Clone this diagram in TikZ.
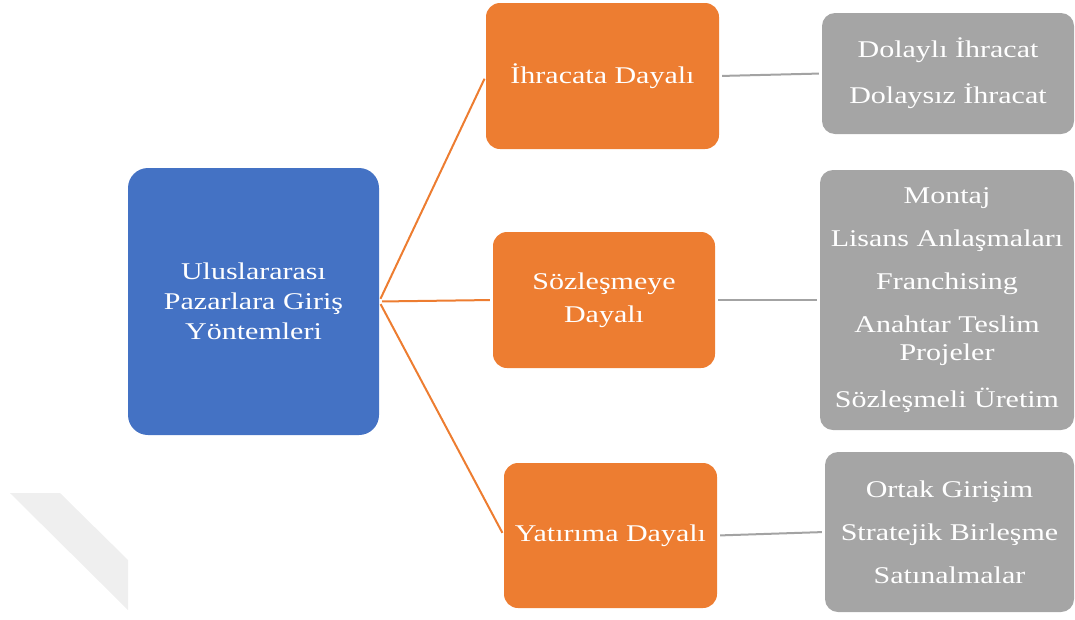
\documentclass[tikz,border=0pt]{standalone}
\usepackage{fontspec}
\setmainfont{Liberation Serif}[FakeStretch=1.25]

\definecolor{rootblue}{HTML}{4472C4}
\definecolor{midorange}{HTML}{ED7D31}
\definecolor{leafgray}{HTML}{A5A5A5}
\definecolor{linegray}{HTML}{A3A3A3}
\definecolor{markgray}{HTML}{EFEFEF}

\tikzset{
  box/.style={rectangle, inner sep=0pt, align=center, text=white,
    font=\fontsize{24}{28}\selectfont},
  rootbox/.style={box, fill=rootblue, rounded corners=20pt,
    font=\fontsize{24}{30}\selectfont},
  midbox/.style={box, fill=midorange, rounded corners=14pt},
  leafbox/.style={box, fill=leafgray, rounded corners=13pt},
  orangelink/.style={draw=midorange, line width=2pt, shorten <=3pt, shorten >=3pt},
  graylink/.style={draw=linegray, line width=2pt, shorten <=3pt, shorten >=3pt},
}

\begin{document}
\begin{tikzpicture}[x=1pt, y=-1pt]
\useasboundingbox (0,0) rectangle (1075,619);

% faint diagonal band in the lower left corner
\fill[markgray] (10,493) -- (60,493) -- (128,560) -- (128,610) -- cycle;

% root
\node[rootbox, minimum width=251pt, minimum height=267pt] (root) at (253.5,301.5)
  {Uluslararası\\Pazarlara Giriş\\Yöntemleri};

% second level
\node[midbox, minimum width=233pt, minimum height=146pt] (exp) at (602.5,76)
  {İhracata Dayalı};
\node[midbox, minimum width=222pt, minimum height=136pt,
  font=\fontsize{24}{33}\selectfont] (con) at (604,300)
  {Sözleşmeye\\Dayalı};
\node[midbox, minimum width=213pt, minimum height=145pt] (inv) at (610.5,535.5)
  {Yatırıma Dayalı};

% third level
\node[leafbox, minimum width=252pt, minimum height=121pt] (expl) at (948,73.5)
  {Dolaylı İhracat\\[18pt]Dolaysız İhracat};
\node[leafbox, minimum width=254pt, minimum height=260pt] (conl) at (947,300)
  {Montaj\\[15pt]Lisans Anlaşmaları\\[15pt]Franchising\\[15pt]Anahtar Teslim\\Projeler\\[19pt]Sözleşmeli Üretim};
\node[leafbox, minimum width=249pt, minimum height=160pt] (invl) at (949.5,532)
  {Ortak Girişim\\[15pt]Stratejik Birleşme\\[15pt]Satınalmalar};

% connectors
\draw[orangelink] (root.east) -- (exp.west);
\draw[orangelink] (root.east) -- (con.west);
\draw[orangelink] (root.east) -- (inv.west);
\draw[graylink] (exp.east) -- (expl.west);
\draw[graylink] (con.east) -- (conl.west);
\draw[graylink] (inv.east) -- (invl.west);
\end{tikzpicture}
\end{document}
